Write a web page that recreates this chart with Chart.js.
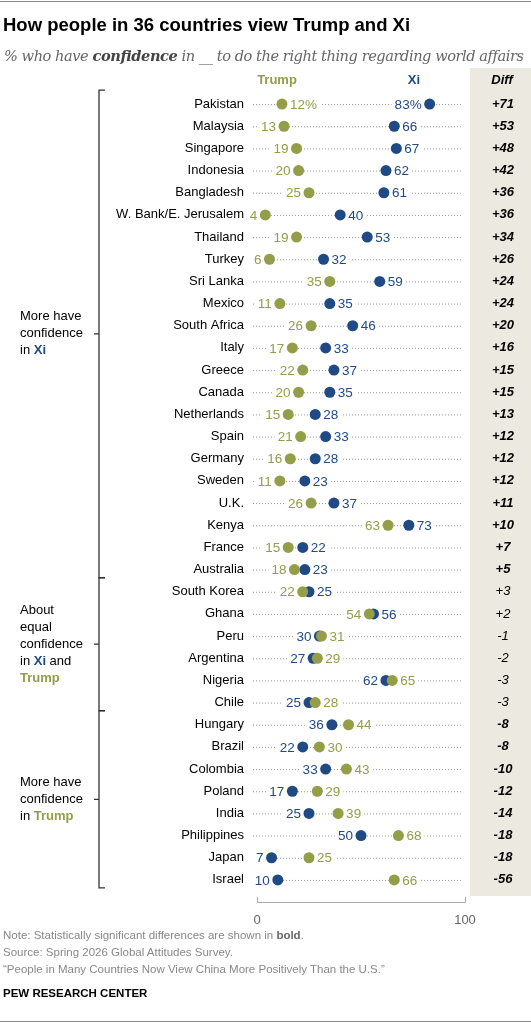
<!DOCTYPE html>
<html><head><meta charset="utf-8">
<script src="https://cdn.jsdelivr.net/npm/chart.js@4/dist/chart.umd.min.js"></script>
<style>
body{margin:0;width:531px;height:1024px;position:relative;background:#fff;font-family:"Liberation Sans",Arial,sans-serif;overflow:hidden}
#wrap{position:absolute;left:0;top:0;width:531px;height:1024px}
.t{position:absolute;white-space:nowrap}
</style></head><body>
<div style="position:absolute;left:0;top:1px;width:531px;border-top:1px solid #888"></div>
<div style="position:absolute;left:0;top:1021px;width:531px;border-top:1px solid #888"></div>
<div id="wrap"><canvas id="c" width="531" height="1024"></canvas></div>
<div class="t" style="left:3px;top:14px;font-size:18.5px;font-weight:bold;color:#000">How people in 36 countries view Trump and Xi</div>
<div class="t" style="left:4px;top:47px;font-size:14.6px;font-style:italic;color:#666;font-family:'DejaVu Serif',Georgia,serif;letter-spacing:-0.45px">% who have <b style="color:#444">confidence</b> in __ to do the right thing regarding world affairs</div>
<div class="t" style="left:3px;top:929px;font-size:11.5px;color:#888">Note: Statistically significant differences are shown in <b style="color:#666">bold</b>.</div>
<div class="t" style="left:3px;top:946px;font-size:11.5px;color:#888">Source: Spring 2026 Global Attitudes Survey.</div>
<div class="t" style="left:3px;top:963px;font-size:11.5px;color:#888">“People in Many Countries Now View China More Positively Than the U.S.”</div>
<div class="t" style="left:3px;top:987px;font-size:11.5px;font-weight:bold;color:#000">PEW RESEARCH CENTER</div>
<script>
const countries=["Pakistan","Malaysia","Singapore","Indonesia","Bangladesh","W. Bank/E. Jerusalem","Thailand","Turkey","Sri Lanka","Mexico","South Africa","Italy","Greece","Canada","Netherlands","Spain","Germany","Sweden","U.K.","Kenya","France","Australia","South Korea","Ghana","Peru","Argentina","Nigeria","Chile","Hungary","Brazil","Colombia","Poland","India","Philippines","Japan","Israel"];
const trump=[12,13,19,20,25,4,19,6,35,11,26,17,22,20,15,21,16,11,26,63,15,18,22,54,31,29,65,28,44,30,43,29,39,68,25,66];
const xi=[83,66,67,62,61,40,53,32,59,35,46,33,37,35,28,33,28,23,37,73,22,23,25,56,30,27,62,25,36,22,33,17,25,50,7,10];
const diffs=["+71","+53","+48","+42","+36","+36","+34","+26","+24","+24","+20","+16","+15","+15","+13","+12","+12","+12","+11","+10","+7","+5","+3","+2","-1","-2","-3","-3","-8","-8","-10","-12","-14","-18","-18","-56"];
const significant=diffs.map((d,i)=>i<22||i>27);
const xTicks=[0,100];
const groups=[{from:0,to:21,lines:[["More have"],["confidence"],["in ",["Xi","x"]]]},{from:22,to:27,lines:[["About"],["equal"],["confidence"],["in ",["Xi","x"]," and"],[["Trump","t"]]]},{from:28,to:35,lines:[["More have"],["confidence"],["in ",["Trump","t"]]]}];
const TC="#949d48",XC="#1f4a85",FONT='"Liberation Sans",Arial,sans-serif';

const deco={id:'deco',
beforeDatasetsDraw(ch){
 const c=ch.ctx,x=ch.scales.x,y=ch.scales.y;
 const L=x.getPixelForValue(0),R=x.getPixelForValue(100);
 c.save();
 c.fillStyle="#ece9e1";c.fillRect(470,68,61,828);
 c.font="bold italic 13px "+FONT;c.fillStyle="#000";c.textAlign="center";c.textBaseline="middle";
 c.fillText("Diff",502,80);
 c.font="bold 13px "+FONT;c.fillStyle=TC;c.fillText("Trump",277,80);
 c.fillStyle=XC;c.fillText("Xi",414,80);
 countries.forEach((n,i)=>{
  const py=y.getPixelForValue(i);
  c.strokeStyle="#999";c.lineWidth=1;c.setLineDash([1,2]);
  c.beginPath();c.moveTo(L-4,py+0.5);c.lineTo(R-4,py+0.5);c.stroke();c.setLineDash([]);
  c.font="13px "+FONT;c.fillStyle="#000";c.textAlign="right";
  c.fillText(n,244,py);
  c.font=(significant[i]?"bold ":"")+"italic 13px "+FONT;c.textAlign="center";
  c.fillText(diffs[i],503,py);
  const t=trump[i],v=xi[i];
  const items=[[t,TC],[v,XC]];
  const lo=t<=v?items[0]:items[1],hi=t<=v?items[1]:items[0];
  c.font="13.5px "+FONT;
  const put=(val,col,side,txt)=>{
    const px=x.getPixelForValue(val);
    const w=c.measureText(txt).width;
    const tx=side<0?px-8-w:px+8;
    c.fillStyle="#fff";c.fillRect(tx-3,py-7,w+6,14);
    c.fillStyle=col;c.textAlign="left";c.fillText(txt,tx,py+1);
  };
  if(i===0){put(lo[0],lo[1],1,lo[0]+"%");put(hi[0],hi[1],-1,hi[0]+"%");}
  else{put(lo[0],lo[1],-1,String(lo[0]));put(hi[0],hi[1],1,String(hi[0]));}
 });
 const ay=902;
 c.strokeStyle="#aaa";c.lineWidth=1;c.beginPath();
 c.moveTo(L+0.5,ay-5);c.lineTo(L+0.5,ay+0.5);c.lineTo(R+0.5,ay+0.5);c.lineTo(R+0.5,ay-5);c.stroke();
 c.fillStyle="#666";c.font="13px "+FONT;c.textAlign="center";
 xTicks.forEach(v=>c.fillText(String(v),x.getPixelForValue(v),920));
 groups.forEach(g=>{
  const y1=y.getPixelForValue(g.from)-14,y2=y.getPixelForValue(g.to)+8,m=(y1+y2)/2;
  c.strokeStyle="#333";c.lineWidth=1.3;c.beginPath();
  c.moveTo(105,y1);c.lineTo(99,y1);c.lineTo(99,y2);c.lineTo(105,y2);
  c.moveTo(99,m);c.lineTo(94,m);c.stroke();
  const lh=17,sy=m-(g.lines.length-1)*lh/2;
  g.lines.forEach((ln,k)=>{
   let cx=20;const ly=sy+k*lh;c.textAlign="left";
   ln.forEach(p=>{
    let txt=p,col="#000",f="13px "+FONT;
    if(Array.isArray(p)){txt=p[0];col=p[1]==="x"?XC:TC;f="bold 13px "+FONT;}
    c.font=f;c.fillStyle=col;c.fillText(txt,cx,ly);cx+=c.measureText(txt).width;
   });
  });
 });
 c.restore();
}};

new Chart(document.getElementById('c'),{
 type:'line',
 data:{labels:countries,datasets:[
  {label:'Trump',data:trump,showLine:false,pointRadius:5.5,pointBackgroundColor:TC,pointBorderWidth:0,borderColor:TC},
  {label:'Xi',data:xi,showLine:false,pointRadius:5.5,pointBackgroundColor:XC,pointBorderWidth:0,borderColor:XC}
 ]},
 options:{indexAxis:'y',responsive:false,animation:false,devicePixelRatio:1,
  layout:{padding:{left:257,right:66,top:93,bottom:133}},
  scales:{x:{type:'linear',min:0,max:100,display:false},y:{type:'category',offset:true,display:false}},
  plugins:{legend:{display:false},tooltip:{enabled:false}}},
 plugins:[deco]
});
</script>
</body></html>
